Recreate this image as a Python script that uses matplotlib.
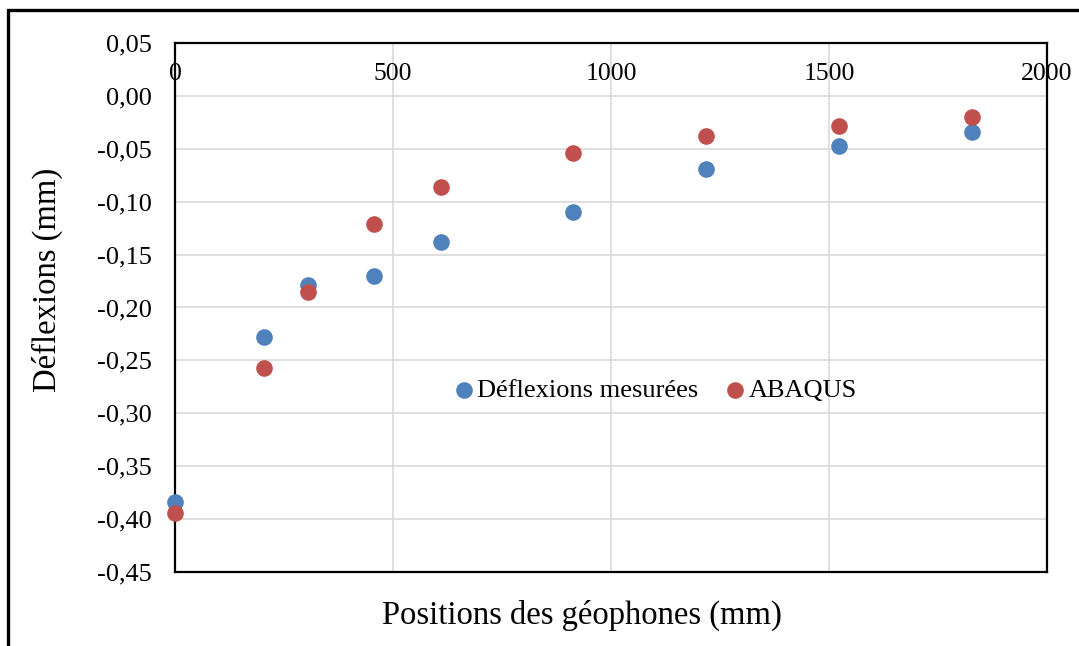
import matplotlib
matplotlib.use('Agg')
import matplotlib.pyplot as plt
from matplotlib.patches import Rectangle
from matplotlib.ticker import MultipleLocator, FuncFormatter

# Positions des géophones (mm)
positions = [0, 203, 305, 457, 610, 914, 1219, 1524, 1829]
# Déflexions (mm)
mesurees = [-0.384, -0.228, -0.179, -0.170, -0.138, -0.110, -0.069, -0.047, -0.034]
abaqus = [-0.394, -0.257, -0.185, -0.121, -0.086, -0.054, -0.038, -0.028, -0.020]
xticks = [0, 500, 1000, 1500, 2000]

plt.rcParams['font.family'] = ['Liberation Serif', 'DejaVu Serif']

fig = plt.figure(figsize=(10.79, 6.46), dpi=100)
ax = fig.add_axes([0.1622, 0.1146, 0.8081, 0.8188])

ax.scatter(positions, mesurees, s=120, color='#4F81BD', label='Déflexions mesurées', zorder=3, clip_on=False)
ax.scatter(positions, abaqus, s=120, color='#C0504D', label='ABAQUS', zorder=3, clip_on=False)

ax.set_xlim(0, 2000)
ax.set_ylim(-0.45, 0.05)
ax.set_xticks(xticks)
ax.yaxis.set_major_locator(MultipleLocator(0.05))
ax.yaxis.set_major_formatter(FuncFormatter(lambda v, p: f'{v:.2f}'.replace('.', ',').replace('-0,00', '0,00')))
ax.tick_params(axis='x', length=0, labelbottom=False)
ax.tick_params(axis='y', length=0, pad=17, labelsize=19)
ax.grid(True, color='#D9D9D9', linewidth=1.2, zorder=0)
ax.set_axisbelow(True)
for sp in ax.spines.values():
    sp.set_linewidth(1.6)
    sp.set_color('black')

# x labels sit next to the axis crossing at 0
for t in xticks:
    ax.text(t, 0.0205, str(t), ha='center', va='center', fontsize=18.5)

ax.set_xlabel('Positions des géophones (mm)', fontsize=23.5)
ax.xaxis.set_label_coords(0.467, -0.052, transform=ax.transAxes)
ax.xaxis.label.set_va('top')
ax.set_ylabel('Déflexions (mm)', fontsize=23.5)
ax.yaxis.set_label_coords(-0.128, 0.552)

ax.legend(loc='center', bbox_to_anchor=(0.549, 0.344), ncol=2, frameon=False, fontsize=19,
          handletextpad=0.0, handlelength=1.0, columnspacing=0.9, scatterpoints=1)

# outer frame of the chart
fig.add_artist(Rectangle((8 / 1079, -0.2), 1.2, 1.2 - 10 / 646, transform=fig.transFigure,
                         fill=False, edgecolor='black', linewidth=2.4))

fig.savefig('out.png', dpi=100)
